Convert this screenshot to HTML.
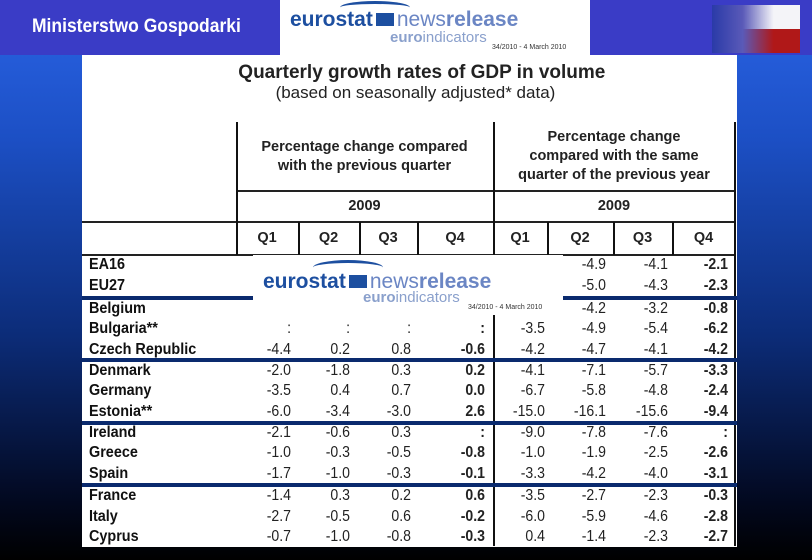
<!DOCTYPE html>
<html><head><meta charset="utf-8"><style>
body{margin:0;width:812px;height:560px;overflow:hidden;position:relative;font-family:"Liberation Sans",Arial,sans-serif;background:linear-gradient(#2a64e6 0%,#1c4fc4 25%,#0c2c78 60%,#02081e 90%,#000 100%);}
.a{position:absolute;}
#band{left:0;top:0;width:812px;height:55px;background:#3a3cc6;}
.txt{white-space:nowrap;}
.lab{font-weight:bold;font-size:16px;color:#111;transform:scaleX(.9);transform-origin:left center;}
.val{font-size:16px;color:#222;text-align:right;transform:scaleX(.88);transform-origin:right center;width:60px;}
.vl{background:#111;width:1.5px;}
.hl{background:#222;height:1.5px;}
.sep{background:#0a2a6e;height:4px;}
</style></head><body>
<div id="band" class="a"></div>
<div class="a txt" style="left:32px;top:16px;color:#fff;font-weight:bold;font-size:19px;transform:scaleX(.92);transform-origin:left">Ministerstwo Gospodarki</div>
<div class="a" style="left:280px;top:0;width:310px;height:55px;background:#fff">
 <div class="a" style="left:60px;top:1px;width:70px;height:10px;border-top:3px solid #1d4fa0;border-radius:50% 50% 0 0"></div>
 <div class="a txt" style="left:10px;top:8px;font-weight:bold;font-size:21px;color:#1d4fa0">eurostat<span style="display:inline-block;width:18px;height:13px;background:#1d4fa0;margin:0 3px"></span><span style="color:#6b86c4;font-weight:normal">news</span><span style="color:#6b86c4">release</span></div>
 <div class="a txt" style="left:110px;top:29px;font-size:15px;color:#8aa0cc;font-weight:bold">euro<span style="font-weight:normal">indicators</span></div>
 <div class="a txt" style="left:212px;top:44px;font-size:7px;color:#333">34/2010 - 4 March 2010</div>
</div>
<div class="a" style="left:712px;top:5px;width:88px;height:48px;background:linear-gradient(to right,#2a3aa8 0%,#5a5ab8 35%,rgba(255,255,255,0) 70%),linear-gradient(#f4f4f8 50%,#b01818 50%)"></div>

<div class="a" style="left:82px;top:55px;width:655px;height:492px;background:#fff"></div>
<div class="a txt" style="left:0;width:812px;top:62px;text-align:center;font-size:19px;font-weight:bold;color:#222;left:0">&nbsp;&nbsp;&nbsp;&nbsp;&nbsp;&nbsp;Quarterly growth rates of GDP in volume</div>
<div class="a txt" style="left:0;width:812px;top:83px;text-align:center;font-size:17px;color:#222">&nbsp;&nbsp;&nbsp;&nbsp;(based on seasonally adjusted* data)</div>

<div class="a txt" style="left:236px;width:257px;top:138px;text-align:center;font-size:14.5px;font-weight:bold;color:#222;line-height:19px">Percentage change compared<br>with the previous quarter</div>
<div class="a txt" style="left:493px;width:242px;top:128px;text-align:center;font-size:14.5px;font-weight:bold;color:#222;line-height:19px">Percentage change<br>compared with the same<br>quarter of the previous year</div>
<div class="a txt" style="left:236px;width:257px;top:198px;text-align:center;font-size:14.5px;font-weight:bold;color:#222">2009</div>
<div class="a txt" style="left:493px;width:242px;top:198px;text-align:center;font-size:14.5px;font-weight:bold;color:#222">2009</div>

<div id="grid"></div>

<div class="a" style="left:253px;top:255px;width:310px;height:60px;background:#fff">
 <div class="a" style="left:60px;top:5px;width:70px;height:12px;border-top:3px solid #1d4fa0;border-radius:50% 50% 0 0"></div>
 <div class="a txt" style="left:10px;top:15px;font-weight:bold;font-size:21px;color:#1d4fa0">eurostat<span style="display:inline-block;width:18px;height:13px;background:#1d4fa0;margin:0 3px"></span><span style="color:#6b86c4;font-weight:normal">news</span><span style="color:#6b86c4">release</span></div>
 <div class="a txt" style="left:110px;top:34px;font-size:15px;color:#8aa0cc;font-weight:bold">euro<span style="font-weight:normal">indicators</span></div>
 <div class="a txt" style="left:215px;top:49px;font-size:7px;color:#333">34/2010 - 4 March 2010</div>
</div>

<script>
const quarters=["Q1","Q2","Q3","Q4","Q1","Q2","Q3","Q4"];
const countries=["EA16","EU27","Belgium","Bulgaria**","Czech Republic","Denmark","Germany","Estonia**","Ireland","Greece","Spain","France","Italy","Cyprus"];
const qoq=[["","","",""],["","","",""],["","","",""],[":",":",":",":"],["-4.4","0.2","0.8","-0.6"],["-2.0","-1.8","0.3","0.2"],["-3.5","0.4","0.7","0.0"],["-6.0","-3.4","-3.0","2.6"],["-2.1","-0.6","0.3",":"],["-1.0","-0.3","-0.5","-0.8"],["-1.7","-1.0","-0.3","-0.1"],["-1.4","0.3","0.2","0.6"],["-2.7","-0.5","0.6","-0.2"],["-0.7","-1.0","-0.8","-0.3"]];
const yoy=[["","-4.9","-4.1","-2.1"],["","-5.0","-4.3","-2.3"],["","-4.2","-3.2","-0.8"],["-3.5","-4.9","-5.4","-6.2"],["-4.2","-4.7","-4.1","-4.2"],["-4.1","-7.1","-5.7","-3.3"],["-6.7","-5.8","-4.8","-2.4"],["-15.0","-16.1","-15.6","-9.4"],["-9.0","-7.8","-7.6",":"],["-1.0","-1.9","-2.5","-2.6"],["-3.3","-4.2","-4.0","-3.1"],["-3.5","-2.7","-2.3","-0.3"],["-6.0","-5.9","-4.6","-2.8"],["0.4","-1.4","-2.3","-2.7"]];
const boldQ=[3,7];
const colRight=[291,350,411,485,545,606,668,728];
const colDiv=[236,298,359,417,493,547,613,672,735];
const rowY=[256,277,300,320,341,362,382,403,424,444,465,487,508,528];
const seps=[296,358,421,483];
const g=document.getElementById('grid');
function add(cls,style,text){const d=document.createElement('div');d.className='a '+cls;d.style.cssText=style;if(text!==undefined)d.textContent=text;g.appendChild(d);return d;}
let d;
d=add('hl','left:236px;top:190px;width:499px;');


d=add('hl','left:82px;top:221px;width:653px;');


d=add('hl','left:82px;top:254px;width:653px;');


d=add('vl','left:236px;top:122px;height:133px;');


d=add('vl','left:493px;top:122px;height:424px;');


d=add('vl','left:734px;top:122px;height:424px;');


for(let i=1;i<8;i++){if(i===4)continue;
 d=add('vl','left:'+colDiv[i]+'px;top:222px;height:33px;');
 
 }
seps.forEach(y=>{d=add('sep','left:82px;top:'+y+'px;width:655px;');
 
 });
quarters.forEach((q,i)=>{const c=(colDiv[i]+colDiv[i+1])/2;
 d=add('txt','left:'+(c-30)+'px;width:60px;top:230px;text-align:center;font-weight:bold;font-size:14.5px;color:#222',q);
 
 });
countries.forEach((c,r)=>{
 d=add('txt lab','left:89px;top:'+rowY[r]+'px;',c);
 
 
 const vals=qoq[r].concat(yoy[r]);
 vals.forEach((v,k)=>{if(v==="")return;
  const b=boldQ.includes(k)?'font-weight:bold;':'';
  d=add('txt val','left:'+(colRight[k]-60)+'px;top:'+rowY[r]+'px;'+b,v);
  
  });
});
</script>
</body></html>
